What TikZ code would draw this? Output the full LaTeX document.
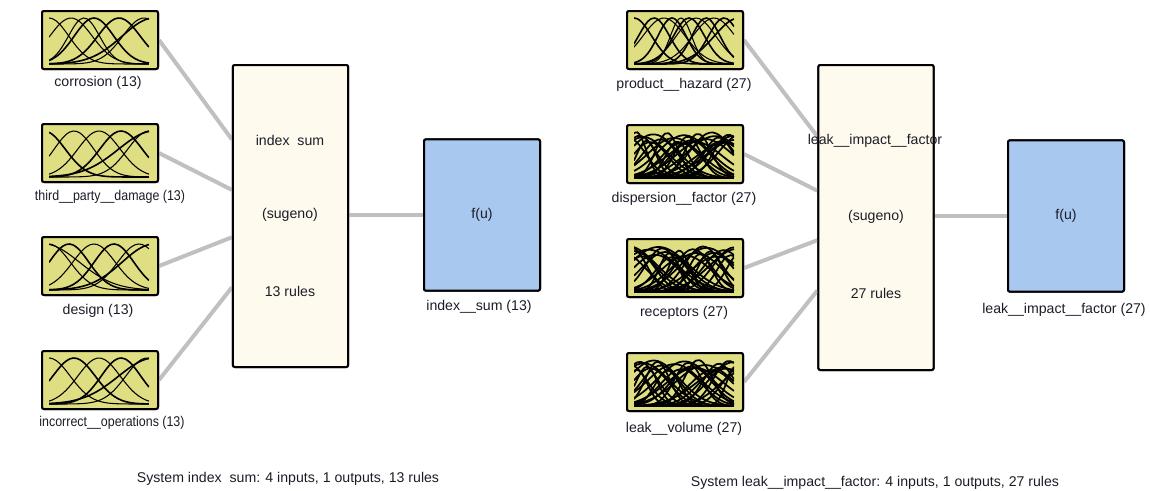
\documentclass[tikz,border=0pt]{standalone}
\usepackage{fontspec}
\setmainfont{Liberation Sans}
\usetikzlibrary{calc}

\definecolor{mffill}{RGB}{224,222,130}
\definecolor{rulefill}{RGB}{255,250,238}
\definecolor{outfill}{RGB}{168,200,240}
\definecolor{wire}{RGB}{192,192,192}
\definecolor{txt}{RGB}{28,28,40}

% dense membership-function sketch inside an input block:
% #1 block name, #2 offset seed, #3 number of curves, #4 curve width
\newcommand{\mfcurves}[4]{%
  \begin{scope}[shift={($(#1.south west)+(8,-6)$)}, x=75pt, y=34.5pt]
    \clip (0,0) rectangle (1,1.04);
    \foreach \i in {1,...,#3}{
      \pgfmathsetmacro\cc{mod(\i*0.377+#2,1.2)-0.1}
      \pgfmathsetmacro\ss{0.13+mod(\i*0.231+#2,0.3)}
      \pgfmathsetmacro\hh{1-mod(\i*0.13+#2,0.25)}
      \draw[line width=#4, black] plot[domain=0:1, samples=30, smooth]
        (\x, {\hh*exp(-((\x-\cc)/\ss)^2)});
    }
  \end{scope}}

% regular membership functions: #1 block name, #2 list of centre/spread/width
\newcommand{\mfset}[2]{%
  \begin{scope}[shift={($(#1.south west)+(8,-6)$)}, x=75pt, y=34.5pt]
    \clip (0,-0.02) rectangle (1,1.04);
    \foreach \cc/\ss/\ww in {#2}{
      \draw[line width=\ww, black] plot[domain=0:1, samples=30, smooth]
        (\x, {exp(-((\x-\cc)/\ss)^2)});
    }
  \end{scope}}

\begin{document}
\begin{tikzpicture}[x=0.75pt, y=-0.75pt,
  font=\fontsize{10.6}{12}\selectfont, text=txt,
  mfblock/.style={draw=black, line width=1.5pt, fill=mffill, rounded corners=1.5pt,
    minimum width=87pt, minimum height=43.5pt, inner sep=0pt},
  ruleblock/.style={draw=black, line width=1.5pt, fill=rulefill, rounded corners=1.5pt,
    minimum width=86.5pt, inner sep=0pt},
  outblock/.style={draw=black, line width=1.5pt, fill=outfill, rounded corners=1.5pt,
    minimum width=87pt, minimum height=113.5pt, inner sep=0pt},
  wirestyle/.style={draw=wire, line width=3pt},
  lbl/.style={inner sep=0pt, anchor=center}]

  \useasboundingbox (0,0) rectangle (1150,490);

  % ---------- system index sum ----------
  \node[mfblock] (a1) at (100,40) {};
  \node[mfblock] (a2) at (100,153) {};
  \node[mfblock] (a3) at (100,266) {};
  \node[mfblock] (a4) at (100,380) {};
  \node[ruleblock, minimum height=226.5pt] (ra) at (290.5,216) {};
  \node[outblock] (oa) at (482,215) {};

  \coordinate (ra1) at ($(ra.north west)!0.248!(ra.south west)$);
  \coordinate (ra2) at ($(ra.north west)!0.414!(ra.south west)$);
  \coordinate (ra3) at ($(ra.north west)!0.570!(ra.south west)$);
  \coordinate (ra4) at ($(ra.north west)!0.735!(ra.south west)$);

  \draw[wirestyle] (a1.east) -- (ra1);
  \draw[wirestyle] (a2.east) -- (ra2);
  \draw[wirestyle] (a3.east) -- (ra3);
  \draw[wirestyle] (a4.east) -- (ra4);
  \draw[wirestyle] (ra.east |- oa.west) -- (oa.west);

  % redraw blocks over the wires
  \node[mfblock] at (a1) {};
  \node[mfblock] at (a2) {};
  \node[mfblock] at (a3) {};
  \node[mfblock] at (a4) {};
  \node[ruleblock, minimum height=226.5pt] at (ra) {};
  \node[outblock] at (oa) {};

  \mfset{a1}{0/0.28/0.8pt, 0.22/0.3/0.8pt, 0.45/0.28/1.2pt, 0.7/0.3/1.2pt,
             0.95/0.3/0.8pt, 1.05/0.45/1.2pt, 0.35/0.22/0.8pt}
  \mfset{a2}{-0.05/0.3/1.2pt, 0.25/0.28/0.8pt, 0.5/0.3/0.8pt, 0.72/0.3/1.2pt,
             1/0.3/0.8pt, 1.05/0.5/1.2pt}
  \mfset{a3}{0/0.3/0.8pt, 0.2/0.28/1.2pt, 0.45/0.3/0.8pt, 0.65/0.28/1.2pt,
             0.9/0.3/0.8pt, 1.05/0.45/1.2pt, -0.05/0.5/0.8pt}
  \mfset{a4}{0/0.3/0.8pt, 0.25/0.3/1.2pt, 0.5/0.3/0.8pt, 0.72/0.28/1.2pt,
             0.98/0.3/0.8pt, 1.05/0.5/1.2pt}

  \node[lbl] (la1) at (98,83) {corrosion (13)};
  \node[lbl] (la2) at (110,197) {\scalebox{0.88}[1]{third\_\_party\_\_damage (13)}};
  \node[lbl] (la3) at (98,311) {design (13)};
  \node[lbl] (la4) at (112,423) {\scalebox{0.88}[1]{incorrect\_\_operations (13)}};

  \node[lbl] (ta1) at (290,140) {index\ \ sum};
  \node[lbl] (ta2) at (290,215) {(sugeno)};
  \node[lbl] (ta3) at (290,291) {13 rules};
  \node[lbl] (fa) at (482,215) {f(u)};
  \node[lbl] (loa) at (479,307) {index\_\_sum (13)};
  \node[lbl] (sa) at (288,479) {System index\ \ sum: 4 inputs, 1 outputs, 13 rules};

  % ---------- system leak impact factor ----------
  \node[mfblock] (b1) at (685,40) {};
  \node[mfblock] (b2) at (685,154) {};
  \node[mfblock] (b3) at (685,268) {};
  \node[mfblock] (b4) at (685,382) {};
  \node[ruleblock, minimum height=228.75pt] (rb) at (876,217.5) {};
  \node[outblock] (ob) at (1066,216) {};

  \coordinate (rb1) at ($(rb.north west)!0.236!(rb.south west)$);
  \coordinate (rb2) at ($(rb.north west)!0.413!(rb.south west)$);
  \coordinate (rb3) at ($(rb.north west)!0.574!(rb.south west)$);
  \coordinate (rb4) at ($(rb.north west)!0.738!(rb.south west)$);

  \draw[wirestyle] (b1.east) -- (rb1);
  \draw[wirestyle] (b2.east) -- (rb2);
  \draw[wirestyle] (b3.east) -- (rb3);
  \draw[wirestyle] (b4.east) -- (rb4);
  \draw[wirestyle] (rb.east |- ob.west) -- (ob.west);

  \node[mfblock] at (b1) {};
  \node[mfblock] at (b2) {};
  \node[mfblock] at (b3) {};
  \node[mfblock] at (b4) {};
  \node[ruleblock, minimum height=228.75pt] at (rb) {};
  \node[outblock] at (ob) {};

  \mfset{b1}{0/0.25/1.2pt, 0.2/0.22/1.2pt, 0.38/0.2/1.2pt, 0.55/0.22/1.2pt,
             0.72/0.2/1.2pt, 0.9/0.22/1.2pt, 0.3/0.3/0.8pt, 0.62/0.28/0.8pt,
             0.47/0.15/0.8pt, 0.8/0.3/0.8pt, 1.05/0.35/1.2pt}
  \mfcurves{b2}{0.33}{27}{1.3pt}
  \mfcurves{b3}{0.52}{27}{1.3pt}
  \mfcurves{b4}{0.78}{27}{1.3pt}

  \node[lbl] (lb1) at (684,85) {product\_\_hazard (27)};
  \node[lbl] (lb2) at (684,199) {dispersion\_\_factor (27)};
  \node[lbl] (lb3) at (684,313) {receptors (27)};
  \node[lbl] (lb4) at (684,429) {leak\_\_volume (27)};

  \node[lbl] (tb1) at (875,141) {leak\_\_impact\_\_factor};
  \node[lbl] (tb2) at (876,217) {(sugeno)};
  \node[lbl] (tb3) at (876,293) {27 rules};
  \node[lbl] (fb) at (1066,216) {f(u)};
  \node[lbl] (lob) at (1064,310) {leak\_\_impact\_\_factor (27)};
  \node[lbl] (sb) at (875,483) {System leak\_\_impact\_\_factor: 4 inputs, 1 outputs, 27 rules};
\end{tikzpicture}
\end{document}
